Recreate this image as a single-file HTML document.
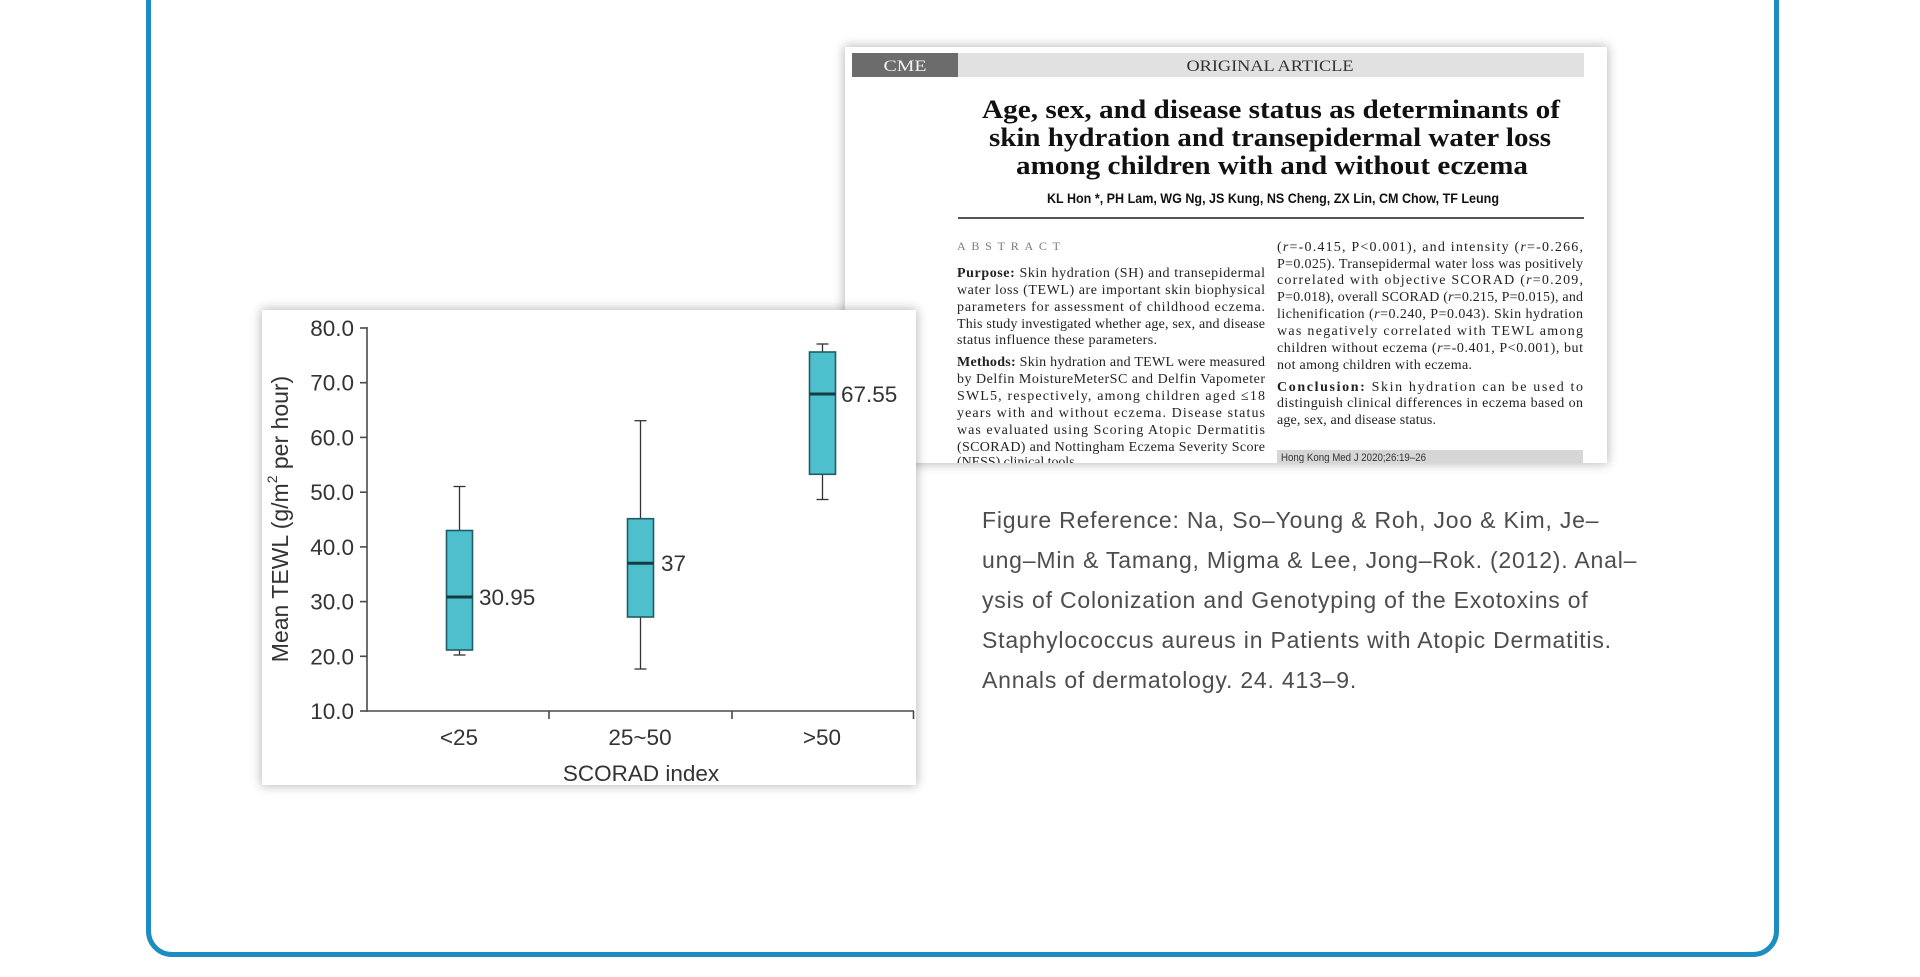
<!DOCTYPE html>
<html>
<head>
<meta charset="utf-8">
<style>
  html,body{margin:0;padding:0;}
  body{width:1920px;height:977px;overflow:hidden;background:#ffffff;position:relative;font-family:"Liberation Sans",Arial,sans-serif;}
  .frame{position:absolute;left:146px;top:-60px;width:1623px;height:1007px;border:5px solid #1b8dc3;border-radius:26px;}
  .article{position:absolute;left:845px;top:47px;width:762px;height:416px;background:#fff;box-shadow:0 0 10px 1px rgba(0,0,0,0.28);overflow:hidden;z-index:1;}
  .chart{position:absolute;left:262px;top:310px;width:654px;height:475px;background:#fff;box-shadow:0 0 10px 1px rgba(0,0,0,0.28);z-index:2;}
  .ref{position:absolute;left:982px;top:500px;font-size:23px;line-height:40px;color:#4d4d4d;letter-spacing:0.8px;white-space:nowrap;font-family:"Liberation Sans",Arial,sans-serif;}
  svg{display:block;}
</style>
</head>
<body>
<div class="frame"></div>

<div class="article">
<svg width="762" height="416" viewBox="845 47 762 416" xmlns="http://www.w3.org/2000/svg">
  <rect x="845" y="47" width="762" height="416" fill="#fff"/>
  <rect x="852" y="53" width="732" height="24" fill="#e1e1e1"/>
  <rect x="852" y="53" width="106" height="24" fill="#6c6c6c"/>
  <text x="905" y="71" font-family="Liberation Serif, serif" font-size="16" fill="#f2f2f2" text-anchor="middle" textLength="43" lengthAdjust="spacingAndGlyphs">CME</text>
  <text x="1270" y="71" font-family="Liberation Serif, serif" font-size="16" fill="#333" text-anchor="middle" textLength="167" lengthAdjust="spacingAndGlyphs">ORIGINAL ARTICLE</text>
  <g font-family="Liberation Serif, serif" font-weight="bold" font-size="26" fill="#111">
    <text x="982" y="118" textLength="578" lengthAdjust="spacingAndGlyphs">Age, sex, and disease status as determinants of</text>
    <text x="989" y="146" textLength="562" lengthAdjust="spacingAndGlyphs">skin hydration and transepidermal water loss</text>
    <text x="1016" y="174" textLength="512" lengthAdjust="spacingAndGlyphs">among children with and without eczema</text>
  </g>
  <text x="1047" y="203" font-family="Liberation Sans Narrow, Liberation Sans, sans-serif" font-weight="bold" font-size="14" fill="#111" textLength="452" lengthAdjust="spacingAndGlyphs">KL Hon *, PH Lam, WG Ng, JS Kung, NS Cheng, ZX Lin, CM Chow, TF Leung</text>
  <rect x="958" y="217" width="626" height="2" fill="#555"/>
  <text x="957" y="250" font-family="Liberation Serif, serif" font-size="12" fill="#7a7a7a" textLength="103" lengthAdjust="spacing">ABSTRACT</text>
  <g font-family="Liberation Serif, serif" font-size="14" fill="#222" lengthAdjust="spacing">
    <text x="957" y="277" textLength="308" lengthAdjust="spacing"><tspan font-weight="bold">Purpose:</tspan> Skin hydration (SH) and transepidermal</text>
    <text x="957" y="294" textLength="308" lengthAdjust="spacing">water loss (TEWL) are important skin biophysical</text>
    <text x="957" y="311" textLength="308" lengthAdjust="spacing">parameters for assessment of childhood eczema.</text>
    <text x="957" y="328" textLength="308" lengthAdjust="spacing">This study investigated whether age, sex, and disease</text>
    <text x="957" y="344" textLength="200" lengthAdjust="spacing">status influence these parameters.</text>
    <text x="957" y="366" textLength="308" lengthAdjust="spacing"><tspan font-weight="bold">Methods:</tspan> Skin hydration and TEWL were measured</text>
    <text x="957" y="383" textLength="308" lengthAdjust="spacing">by Delfin MoistureMeterSC and Delfin Vapometer</text>
    <text x="957" y="400" textLength="308" lengthAdjust="spacing">SWL5, respectively, among children aged ≤18</text>
    <text x="957" y="417" textLength="308" lengthAdjust="spacing">years with and without eczema. Disease status</text>
    <text x="957" y="434" textLength="308" lengthAdjust="spacing">was evaluated using Scoring Atopic Dermatitis</text>
    <text x="957" y="451" textLength="308" lengthAdjust="spacing">(SCORAD) and Nottingham Eczema Severity Score</text>
    <text x="957" y="466" textLength="121" lengthAdjust="spacing">(NESS) clinical tools.</text>

    <text x="1277" y="251" textLength="306" lengthAdjust="spacing">(<tspan font-style="italic">r</tspan>=-0.415, P&lt;0.001), and intensity (<tspan font-style="italic">r</tspan>=-0.266,</text>
    <text x="1277" y="268" textLength="306" lengthAdjust="spacing">P=0.025). Transepidermal water loss was positively</text>
    <text x="1277" y="284" textLength="306" lengthAdjust="spacing">correlated with objective SCORAD (<tspan font-style="italic">r</tspan>=0.209,</text>
    <text x="1277" y="301" textLength="306" lengthAdjust="spacing">P=0.018), overall SCORAD (<tspan font-style="italic">r</tspan>=0.215, P=0.015), and</text>
    <text x="1277" y="318" textLength="306" lengthAdjust="spacing">lichenification (<tspan font-style="italic">r</tspan>=0.240, P=0.043). Skin hydration</text>
    <text x="1277" y="335" textLength="306" lengthAdjust="spacing">was negatively correlated with TEWL among</text>
    <text x="1277" y="352" textLength="306" lengthAdjust="spacing">children without eczema (<tspan font-style="italic">r</tspan>=-0.401, P&lt;0.001), but</text>
    <text x="1277" y="369" textLength="195" lengthAdjust="spacing">not among children with eczema.</text>
    <text x="1277" y="391" textLength="306" lengthAdjust="spacing"><tspan font-weight="bold">Conclusion:</tspan> Skin hydration can be used to</text>
    <text x="1277" y="407" textLength="306" lengthAdjust="spacing">distinguish clinical differences in eczema based on</text>
    <text x="1277" y="424" textLength="159" lengthAdjust="spacing">age, sex, and disease status.</text>
  </g>
  <rect x="1277" y="450" width="306" height="14" fill="#d6d6d6"/>
  <text x="1281" y="461" font-family="Liberation Sans Narrow, Liberation Sans, sans-serif" font-size="11" fill="#333" textLength="145" lengthAdjust="spacingAndGlyphs">Hong Kong Med J 2020;26:19–26</text>
</svg>
</div>

<div class="chart">
<svg width="654" height="475" viewBox="262 310 654 475" xmlns="http://www.w3.org/2000/svg">
  <rect x="262" y="310" width="654" height="475" fill="#fff"/>
  <g stroke="#4a4a4a" stroke-width="1.6" fill="none">
    <line x1="367" y1="327" x2="367" y2="711.8"/>
    <line x1="366.2" y1="711" x2="914" y2="711"/>
    <line x1="360" y1="328" x2="367" y2="328"/>
    <line x1="360" y1="382.7" x2="367" y2="382.7"/>
    <line x1="360" y1="437.4" x2="367" y2="437.4"/>
    <line x1="360" y1="492.2" x2="367" y2="492.2"/>
    <line x1="360" y1="546.9" x2="367" y2="546.9"/>
    <line x1="360" y1="601.6" x2="367" y2="601.6"/>
    <line x1="360" y1="656.3" x2="367" y2="656.3"/>
    <line x1="360" y1="711" x2="367" y2="711"/>
    <line x1="549" y1="711" x2="549" y2="719"/>
    <line x1="732" y1="711" x2="732" y2="719"/>
    <line x1="913.5" y1="711" x2="913.5" y2="719"/>
  </g>
  <g font-family="Liberation Sans, Arial, sans-serif" font-size="22.5" fill="#333" text-anchor="end">
    <text x="354" y="336">80.0</text>
    <text x="354" y="390.7">70.0</text>
    <text x="354" y="445.4">60.0</text>
    <text x="354" y="500.2">50.0</text>
    <text x="354" y="554.9">40.0</text>
    <text x="354" y="609.6">30.0</text>
    <text x="354" y="664.3">20.0</text>
    <text x="354" y="719">10.0</text>
  </g>
  <g font-family="Liberation Sans, Arial, sans-serif" font-size="22.5" fill="#333" text-anchor="middle">
    <text x="459" y="745">&lt;25</text>
    <text x="640" y="745">25~50</text>
    <text x="822" y="745">&gt;50</text>
    <text x="641" y="781">SCORAD index</text>
  </g>
  <text transform="translate(288,519) rotate(-90)" font-family="Liberation Sans, Arial, sans-serif" font-size="23" fill="#333" text-anchor="middle">Mean TEWL (g/m<tspan font-size="14" dy="-11">2</tspan><tspan dy="11"> per hour)</tspan></text>

  <g stroke="#333" stroke-width="1.3" fill="none">
    <line x1="459.5" y1="486.5" x2="459.5" y2="655"/>
    <line x1="453.5" y1="486.5" x2="465.5" y2="486.5"/>
    <line x1="453.5" y1="655" x2="465.5" y2="655"/>
    <line x1="640.5" y1="420.7" x2="640.5" y2="669"/>
    <line x1="634.5" y1="420.7" x2="646.5" y2="420.7"/>
    <line x1="634.5" y1="669" x2="646.5" y2="669"/>
    <line x1="822.5" y1="344" x2="822.5" y2="499.5"/>
    <line x1="816.5" y1="344" x2="828.5" y2="344"/>
    <line x1="816.5" y1="499.5" x2="828.5" y2="499.5"/>
  </g>
  <g fill="#4ebfcc" stroke="#1f5c66" stroke-width="1.6">
    <rect x="446.5" y="530.5" width="26" height="119.5"/>
    <rect x="627.5" y="518.7" width="26" height="98.3"/>
    <rect x="809.5" y="352" width="26" height="122.3"/>
  </g>
  <g stroke="#163c42" stroke-width="3">
    <line x1="446.5" y1="597" x2="472.5" y2="597"/>
    <line x1="627.5" y1="563.3" x2="653.5" y2="563.3"/>
    <line x1="809.5" y1="394" x2="835.5" y2="394"/>
  </g>
  <g font-family="Liberation Sans, Arial, sans-serif" font-size="22.5" fill="#333">
    <text x="479" y="605">30.95</text>
    <text x="661" y="571">37</text>
    <text x="841" y="402">67.55</text>
  </g>
</svg>
</div>

<div class="ref">Figure Reference: Na, So–Young &amp; Roh, Joo &amp; Kim, Je–<br>ung–Min &amp; Tamang, Migma &amp; Lee, Jong–Rok. (2012). Anal–<br>ysis of Colonization and Genotyping of the Exotoxins of<br>Staphylococcus aureus in Patients with Atopic Dermatitis.<br>Annals of dermatology. 24. 413–9.</div>
</body>
</html>
